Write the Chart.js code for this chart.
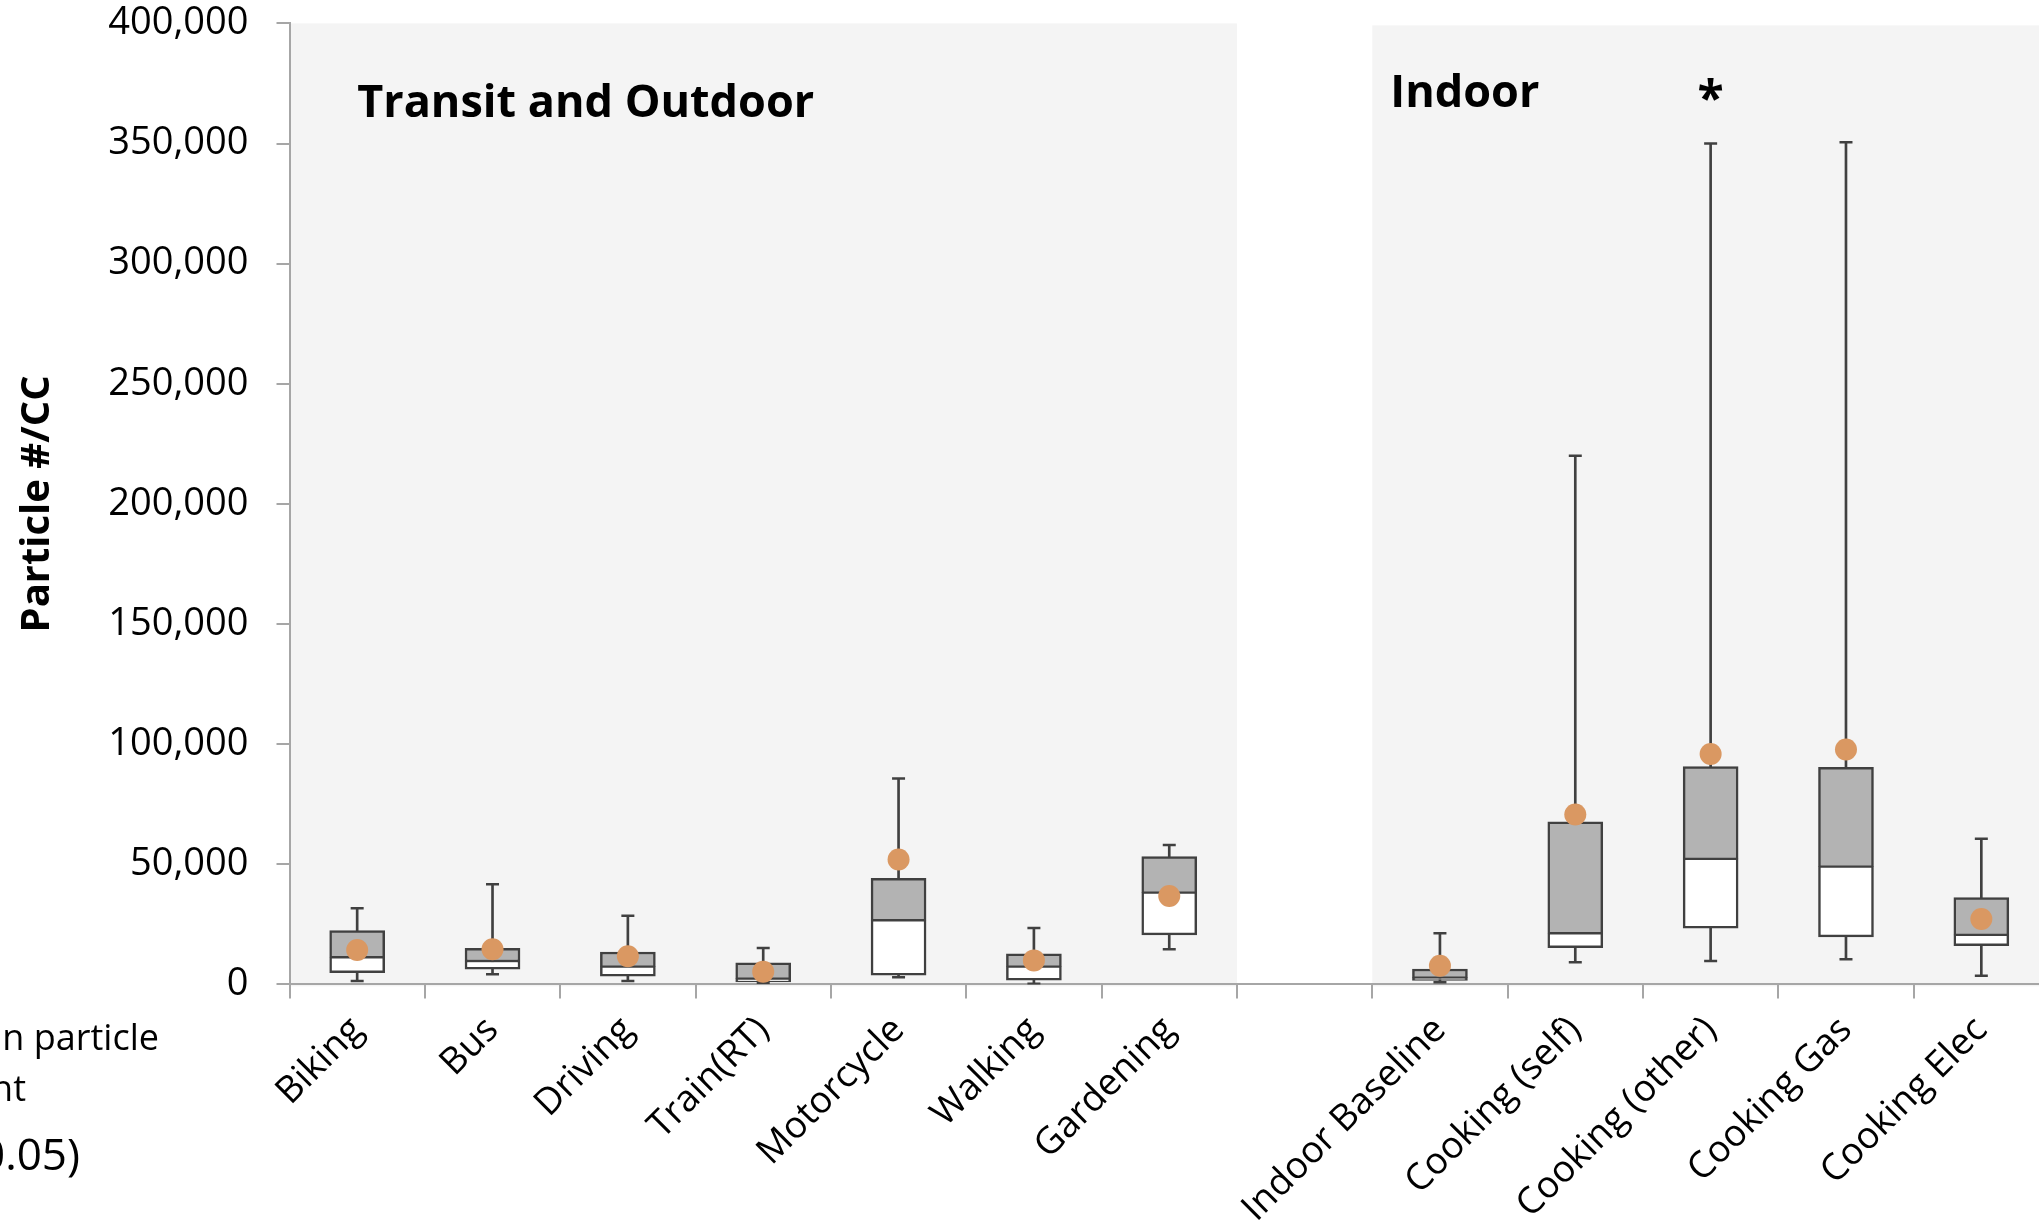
<!DOCTYPE html>
<html>
<head>
<meta charset="utf-8">
<title>Particle #/CC by activity</title>
<script src="https://cdn.jsdelivr.net/npm/chart.js@4.4.0/dist/chart.umd.min.js"></script>
<style>
  html, body { margin: 0; padding: 0; background: #fff; overflow: hidden; }
  #wrap { width: 2060px; height: 1232px; }
</style>
</head>
<body>
<div id="wrap"><canvas id="myChart" width="2060" height="1232"></canvas></div>
<script>
// categories (the empty one is the gap between the two panels)
const categories = ['Biking', 'Bus', 'Driving', 'Train(RT)', 'Motorcycle', 'Walking', 'Gardening', '',
  'Indoor Baseline', 'Cooking (self)', 'Cooking (other)', 'Cooking Gas', 'Cooking Elec'];

// box plot values
const whiskerLow  = [1400, 4200, 1400, 700, 2950, 300, 14600, null, 900, 9200, 9750, 10450, 3600];
const quartile1   = [4900, 6300, 3400, 1000, 3800, 1800, 20600, null, 1700, 15300, 23400, 19750, 16100];
const medians     = [11300, 9750, 7400, 2400, 26700, 7400, 38200, null, 2800, 21300, 52250, 49000, 20600];
const quartile3   = [22400, 15000, 13500, 9000, 44200, 12700, 53200, null, 6400, 67700, 90700, 90300, 36100];
const whiskerHigh = [31700, 41700, 28600, 15200, 85700, 23500, 58000, null, 21300, 220000, 350000, 350500, 60600];
const means       = [14300, 14600, 11700, 5300, 52000, 10000, 36800, null, 7800, 70700, 95900, 97800, 27200];

// y axis tick values
const yTickValues = [0, 50000, 100000, 150000, 200000, 250000, 300000, 350000, 400000];

// panels and markers
const panelLabels = ['Transit and Outdoor', 'Indoor'];
const gapIndex = 7;
const significantIndex = 10;

const pairs = (a, b) => a.map((v, i) => (v === null ? null : [v, b[i]]));

const axisGray = '#a6a6a6';
const boxLine = '#404040';

Chart.defaults.font.family = '"Open Sans", sans-serif';
Chart.defaults.color = '#000';

// grey panel backgrounds, panel titles and the cut off note at the left
const panels = {
  id: 'panels',
  beforeDraw(chart) {
    const {ctx, chartArea, scales: {x, y}} = chart;
    const half = (x.getPixelForValue(1) - x.getPixelForValue(0)) / 2;
    const top = y.getPixelForValue(yTickValues[yTickValues.length - 1]);
    const bottom = y.getPixelForValue(0) + 2;
    const gapLeft = x.getPixelForValue(gapIndex) - half;
    const gapRight = x.getPixelForValue(gapIndex) + half;
    ctx.save();
    ctx.fillStyle = '#f4f4f4';
    ctx.fillRect(chartArea.left, top, gapLeft - chartArea.left, bottom - top);
    ctx.fillRect(gapRight, top + 2, chart.width - gapRight, bottom - top - 2);
    ctx.restore();
  },
  afterDraw(chart) {
    const {ctx, chartArea, scales: {x}} = chart;
    const half = (x.getPixelForValue(1) - x.getPixelForValue(0)) / 2;
    const gapRight = x.getPixelForValue(gapIndex) + half;
    ctx.save();
    ctx.fillStyle = '#000';
    ctx.textBaseline = 'alphabetic';
    ctx.textAlign = 'left';
    ctx.font = 'bold 45px "Open Sans", sans-serif';
    ctx.fillText(panelLabels[0], x.getPixelForValue(0), chartArea.top + 94);
    ctx.fillText(panelLabels[1], gapRight + 18, chartArea.top + 84);
    ctx.textAlign = 'center';
    ctx.font = 'bold 48px "Open Sans", sans-serif';
    ctx.fillText('*', x.getPixelForValue(significantIndex), chartArea.top + 92);

    ctx.textAlign = 'right';
    ctx.font = '36px "Open Sans", sans-serif';
    ctx.fillText('Mean particle', 159, 1050);
    ctx.fillText('count', 26, 1101);
    ctx.font = '44px "Open Sans", sans-serif';
    ctx.fillText('* (p<0.05)', 80, 1170);
    ctx.restore();
  }
};

var chart = new Chart(document.getElementById('myChart').getContext('2d'), {
  type: 'bar',
  data: {
    labels: categories,
    datasets: [
      {
        label: 'whisker',
        data: pairs(whiskerLow, whiskerHigh),
        backgroundColor: boxLine,
        barThickness: 2,
        grouped: false,
        order: 5
      },
      {
        label: 'lower box',
        data: pairs(quartile1, medians),
        backgroundColor: '#ffffff',
        borderColor: boxLine,
        borderWidth: {top: 1.5, bottom: 2.5, left: 2.5, right: 2.5},
        borderSkipped: false,
        barThickness: 55,
        grouped: false,
        order: 4
      },
      {
        label: 'upper box',
        data: pairs(medians, quartile3),
        backgroundColor: '#b3b3b3',
        borderColor: boxLine,
        borderWidth: {top: 2.5, bottom: 1.5, left: 2.5, right: 2.5},
        borderSkipped: false,
        barThickness: 55,
        grouped: false,
        order: 3
      },
      {
        type: 'line',
        label: 'min cap',
        data: whiskerLow,
        showLine: false,
        pointStyle: 'line',
        pointRadius: 6.5,
        pointBorderWidth: 2.5,
        pointBorderColor: boxLine,
        order: 2
      },
      {
        type: 'line',
        label: 'max cap',
        data: whiskerHigh,
        showLine: false,
        pointStyle: 'line',
        pointRadius: 6.5,
        pointBorderWidth: 2.5,
        pointBorderColor: boxLine,
        order: 2
      },
      {
        type: 'line',
        label: 'Mean',
        data: means,
        showLine: false,
        pointRadius: 11,
        pointBorderWidth: 0,
        pointBackgroundColor: '#da9862',
        order: 1
      }
    ]
  },
  options: {
    responsive: false,
    animation: false,
    layout: { padding: { left: 0, right: 8, top: 23.4, bottom: 0 } },
    plugins: {
      legend: { display: false },
      tooltip: { enabled: false }
    },
    scales: {
      x: {
        offset: true,
        grid: { drawOnChartArea: false, offset: true, tickLength: 14, color: axisGray, lineWidth: 2 },
        border: { display: true, color: axisGray, width: 2 },
        ticks: {
          autoSkip: false,
          minRotation: 45,
          maxRotation: 45,
          padding: 10,
          font: { size: 37 },
          color: '#000'
        },
        afterFit: (scale) => {
          scale.height = 247.6;
          scale.paddingLeft = 0;
          scale.paddingRight = 0;
        }
      },
      y: {
        min: 0,
        max: 400000,
        grid: { drawOnChartArea: false, tickLength: 13, color: axisGray, lineWidth: 2 },
        border: { display: true, color: axisGray, width: 2 },
        ticks: {
          padding: 28,
          font: { size: 38 },
          color: '#000',
          callback: (v) => v.toLocaleString('en-US')
        },
        afterBuildTicks: (scale) => { scale.ticks = yTickValues.map(v => ({ value: v })); },
        title: {
          display: true,
          text: 'Particle #/CC',
          font: { size: 40, weight: 'bold' },
          color: '#000',
          padding: { top: 14, bottom: 0 }
        },
        afterFit: (scale) => {
          scale.width = 289.5;
          scale.paddingTop = 0;
          scale.paddingBottom = 0;
        }
      }
    }
  },
  plugins: [panels]
});
</script>
</body>
</html>
